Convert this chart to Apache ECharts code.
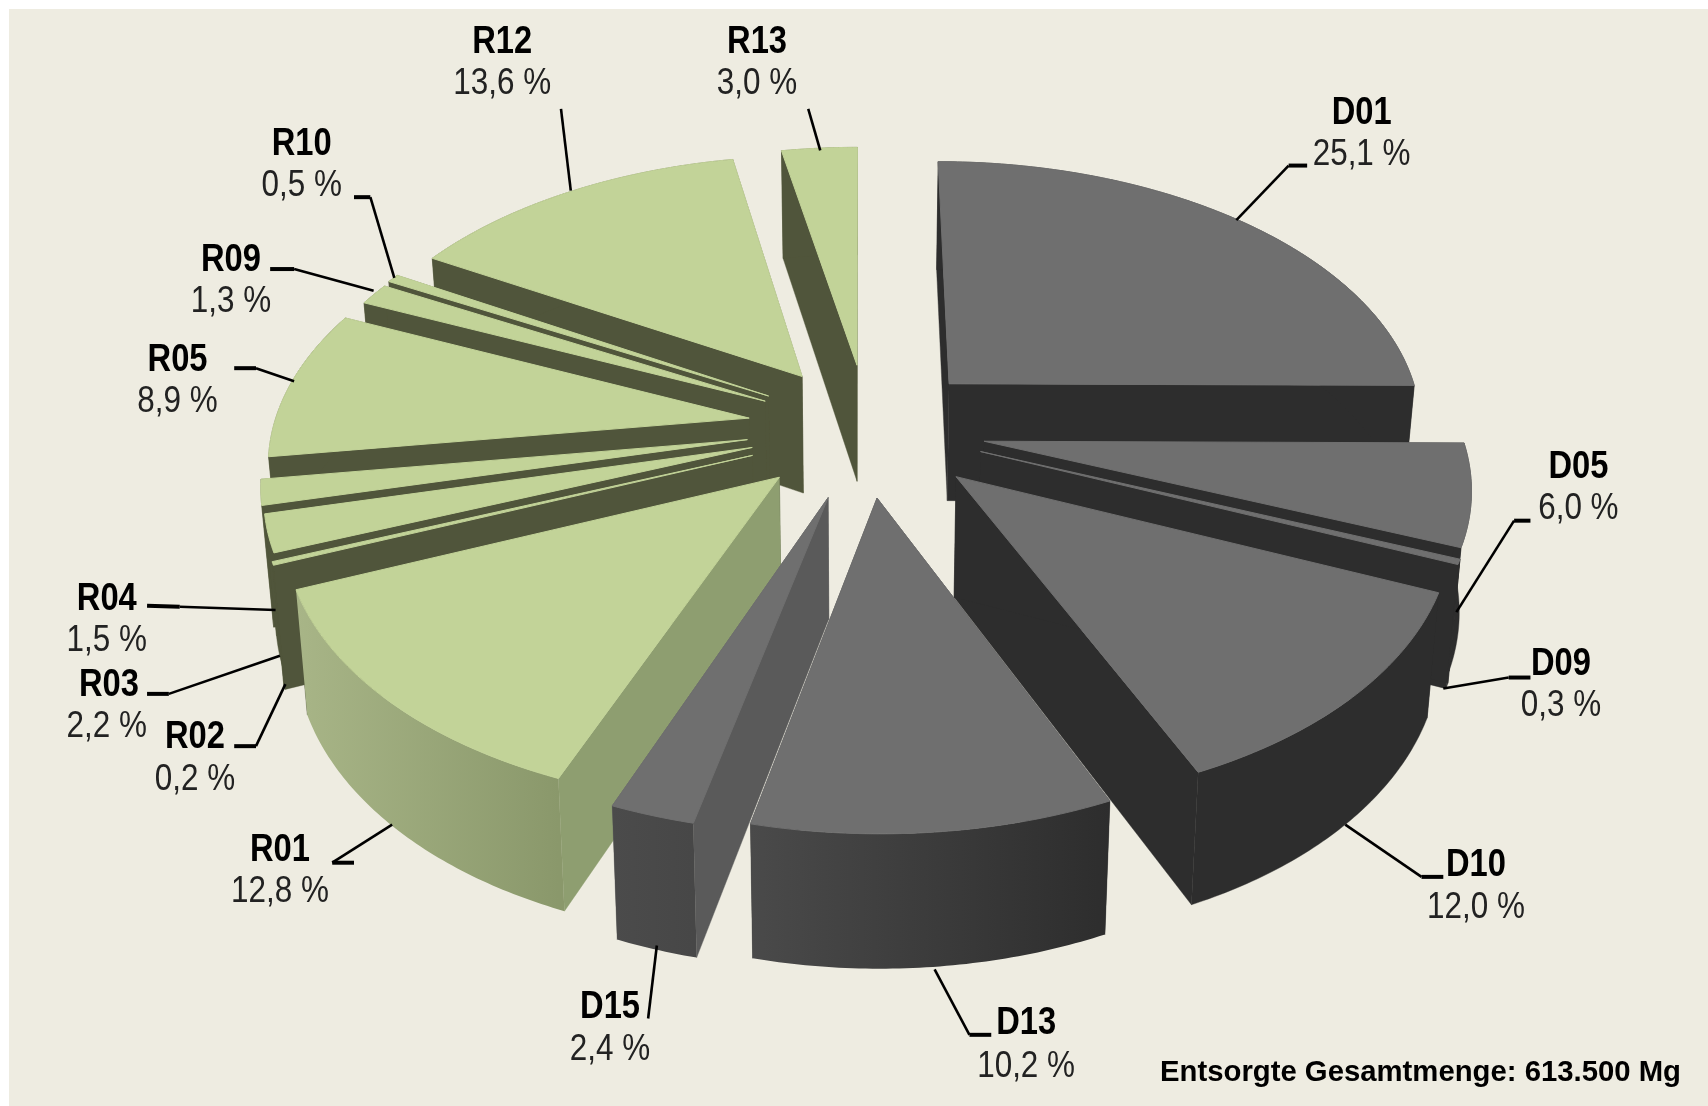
<!DOCTYPE html>
<html><head><meta charset="utf-8">
<style>html,body{margin:0;padding:0;background:#fff}#c{width:1708px;height:1106px}</style>
<script src="https://cdn.jsdelivr.net/npm/echarts@6/dist/echarts.min.js"></script>
</head><body><div id="c"></div>
<script>
// ---- data (clockwise from 12 o'clock) ----
const names  = ['D01','D05','D09','D10','D13','D15','R01','R02','R03','R04','R05','R09','R10','R12','R13'];
const values = [25.1,6.0,0.3,12.0,10.2,2.4,12.8,0.2,2.2,1.5,8.9,1.3,0.5,13.6,3.0];
const footer = 'Entsorgte Gesamtmenge: 613.500 Mg';

// ---- style / layout ----
const explodeX = [0.1917,0.2589,0.25,0.1966,0.0345,-0.0645,-0.165,-0.2225,-0.224,-0.235,-0.234,-0.202,-0.1953,-0.125,-0.0065];
const explodeY = [-0.178,0.042,0.08,0.171,0.2467,0.245,0.173,0.094,0.065,0.036,-0.045,-0.11,-0.13,-0.207,-0.252];
const paintOrder = ['R13','R12','D01','R10','R09','R05','D05','D09','R04','R03','R02','D10','R01','D15','D13'];
const DARK = {top:'#6f6f6f',cut:'#2d2d2d',wall:['#2d2d2d','#2d2d2d']};
const GREEN = {top:'#c2d398',cut:'#50553b',wall:['#50553b','#50553b']};
const faceOverride = {
  D13:{wall:['#4a4a4a','#2d2d2d']},
  D15:{cut:'#5a5a5a',wall:['#4b4b4b','#474747']},
  R01:{cut:'#8e9e70',wall:['#a8b587','#8a986b']}
};
const K = 1708/1568;
const labelName  = {R12:[461,39],R13:[695,39],D01:[1250,104],D05:[1449,429],D09:[1433,610],D10:[1355,795],D13:[942,940],D15:[560,925],R01:[257,781],R02:[179,677],R03:[100,629],R04:[98,550],R05:[163,331],R09:[212,239],R10:[277,133]};
const labelValue = {R12:[461,77],R13:[695,77],D01:[1250,142],D05:[1449,467],D09:[1433,648],D10:[1355,833],D13:[942,979],D15:[560,964],R01:[257,819],R02:[179,716],R03:[98,667],R04:[98,588],R05:[163,369],R09:[212,277],R10:[277,171]};
const leaderStub = {D01:[[1200,152],[1183,152]],D05:[[1405,478],[1390,478]],D09:[[1405,622],[1385,622]],D10:[[1325,805],[1305,805]],D13:[[910,950],[890,950]],R01:[[325,792],[305,792]],R02:[[235,685],[215,685]],R03:[[135,637],[155,637]],R04:[[135,556],[165,557]],R05:[[215,338],[235,338]],R09:[[248,247],[270,247]],R10:[[325,181],[340,181]]};
const leaderLine = {R12:[[515,100],[524,175]],R13:[[742,100],[753,138]],D01:[[1183,152],[1135,202]],D05:[[1390,478],[1337,562]],D09:[[1385,622],[1325,632]],D10:[[1305,805],[1235,757]],D13:[[890,950],[858,890]],D15:[[595,935],[603,868]],R01:[[305,792],[360,757]],R02:[[235,685],[262,628]],R03:[[155,637],[257,602]],R04:[[165,557],[253,560]],R05:[[235,338],[270,350]],R09:[[270,247],[343,267]],R10:[[340,181],[362,255]]};

// ---- pie projection (a tilted disc seen in perspective) ----
const CX=860, CY=430, A=476.5, P=0.143, SLOPE=0.256;
function project(X,Y){ const s=A/(1-P*Y); return [CX+s*X, CY+(s-A)/SLOPE]; }
function drop(pt){ return [CX+(pt[0]-CX)*0.98, pt[1]+116+0.04*(pt[1]-362)]; }

const total = values.reduce((a,b)=>a+b,0);
const starts = []; values.reduce((acc,v,i)=>{starts[i]=acc;return acc+v;},0);
function rad(pct){ return pct/total*2*Math.PI; }

function rimPoints(i){
  const a0=rad(starts[i]), a1=rad(starts[i]+values[i]);
  const n=Math.max(2,Math.ceil((a1-a0)/0.012)), pts=[];
  for(let k=0;k<=n;k++){
    const t=a0+(a1-a0)*k/n;
    pts.push(project(explodeX[i]+Math.sin(t), explodeY[i]-Math.cos(t)));
  }
  return pts;
}
function sliceGroup(i){
  const name=names[i];
  const st=Object.assign({}, name[0]==='D'?DARK:GREEN, faceOverride[name]||{});
  const apex=project(explodeX[i],explodeY[i]), apexB=drop(apex);
  const rim=rimPoints(i), rimB=rim.map(drop);
  const first=rim[0], last=rim[rim.length-1];
  const poly=(pts,fill,lw)=>({type:'polygon',shape:{points:pts},style:{fill:fill,stroke:typeof fill==='string'?fill:null,lineWidth:typeof fill==='string'?lw:0}});
  const xs=rim.map(p=>p[0]);
  const minX=Math.min(...xs), maxX=Math.max(...xs);
  const wallFill=st.wall[0]===st.wall[1]?st.wall[0]:{type:'linear',global:true,x:minX,y:0,x2:maxX,y2:0,
     colorStops:[{offset:0,color:st.wall[0]},{offset:1,color:st.wall[1]}]};
  const darkCut = name[0]==='D'?DARK.cut:GREEN.cut;
  return {type:'group',children:[
    poly([apex,last,rimB[rimB.length-1],apexB], name==='D15'?'#5a5a5a':darkCut,0.4),
    poly([apex,first,rimB[0],apexB], st.cut,0.4),
    poly(rim.concat(rimB.slice().reverse()), wallFill,0.4),
    poly([apex].concat(rim), st.top,1)
  ]};
}
const sliceRows = paintOrder.map(n=>[names.indexOf(n), values[names.indexOf(n)]]);
const labelRows = names.map((n,i)=>[i, values[i]]);
const fmt = v => v.toFixed(1).replace('.',',')+' %';
const sc = p => [p[0]*K,p[1]*K];

const option = {
  animation:false,
  backgroundColor:'#ffffff',
  graphic:[{type:'rect',z:-10,silent:true,shape:{x:9,y:9,width:1699,height:1097},style:{fill:'#eeece1'}}],
  title:{text:footer,right:22,top:1053,textStyle:{fontFamily:'"Liberation Sans",Arial,sans-serif',fontSize:29.3,fontWeight:'bold',color:'#000'}},
  series:[
    {type:'custom',coordinateSystem:'none',silent:true,z:2,data:sliceRows,
     renderItem:(params,api)=>sliceGroup(api.value(0))},
    {type:'custom',coordinateSystem:'none',silent:true,z:3,data:labelRows,
     renderItem:(params,api)=>{
       const i=api.value(0), n=names[i], kids=[];
       kids.push({type:'polyline',shape:{points:leaderLine[n].map(sc)},style:{stroke:'#000',lineWidth:2.6,fill:null}});
       if(leaderStub[n]) kids.push({type:'polyline',shape:{points:leaderStub[n].map(sc)},style:{stroke:'#000',lineWidth:4,fill:null}});
       const a=sc(labelName[n]), b=sc(labelValue[n]);
       kids.push({type:'text',x:a[0],y:a[1],scaleX:0.86,style:{text:n,font:'bold 38px "Liberation Sans",Arial,sans-serif',fill:'#000',align:'center',verticalAlign:'middle'}});
       kids.push({type:'text',x:b[0],y:b[1],scaleX:0.85,style:{text:fmt(api.value(1)),font:'37px "Liberation Sans",Arial,sans-serif',fill:'#222',align:'center',verticalAlign:'middle'}});
       return {type:'group',children:kids};
     }}
  ]
};
echarts.init(document.getElementById('c'),null,{renderer:'canvas'}).setOption(option);
</script></body></html>
